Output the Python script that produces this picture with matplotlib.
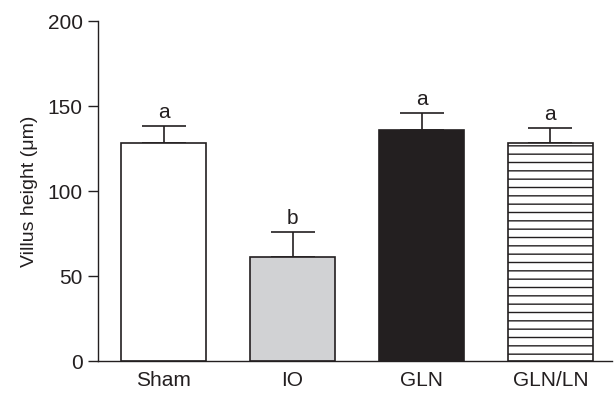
import numpy as np
import matplotlib.pyplot as plt

groups = ["Sham", "IO", "GLN", "GLN/LN"]
means = [128, 61, 136, 128]
sem = [10, 15, 10, 9]
letters = ["a", "b", "a", "a"]
colors = ["white", "#d1d2d4", "#231f20", "white"]
hatches = ["", "", "", "--"]

plt.rcParams['font.family'] = ['Liberation Sans', 'DejaVu Sans']
plt.rcParams['hatch.linewidth'] = 1.0
plt.rcParams['hatch.color'] = '#231f20'

fig = plt.figure(figsize=(6.16, 3.93), dpi=100)
ax = fig.add_axes([0.159, 0.0814, 0.835, 0.865])

x = np.arange(len(groups))
ax.bar(x, means, width=0.66, color=colors, edgecolor='#231f20',
       linewidth=1.2, hatch=hatches, zorder=2)
ax.errorbar(x, means, yerr=[np.zeros(len(sem)), sem], fmt='none',
            ecolor='#231f20', elinewidth=1.2, capsize=16, capthick=1.2, zorder=1)

for xi, m, s, l in zip(x, means, sem, letters):
    ax.text(xi, m + s + 2.5, l, ha='center', va='bottom', fontsize=15, color='#231f20')

ax.set_xlim(-0.51, 3.48)
ax.set_ylim(0, 200)
ax.set_yticks([0, 50, 100, 150, 200])
ax.set_xticks(x)
ax.set_xticklabels(groups)
ax.set_ylabel("Villus height (μm)", fontsize=14, color='#231f20', labelpad=7)

for s in ['top', 'right']:
    ax.spines[s].set_visible(False)
for s in ['left', 'bottom']:
    ax.spines[s].set_linewidth(1.0)
    ax.spines[s].set_color('#231f20')
ax.tick_params(axis='y', length=7, width=1.0, labelsize=15, colors='#231f20', pad=4)
ax.tick_params(axis='x', length=0, labelsize=15, colors='#231f20', pad=7)

fig.savefig("out.png", dpi=100)
